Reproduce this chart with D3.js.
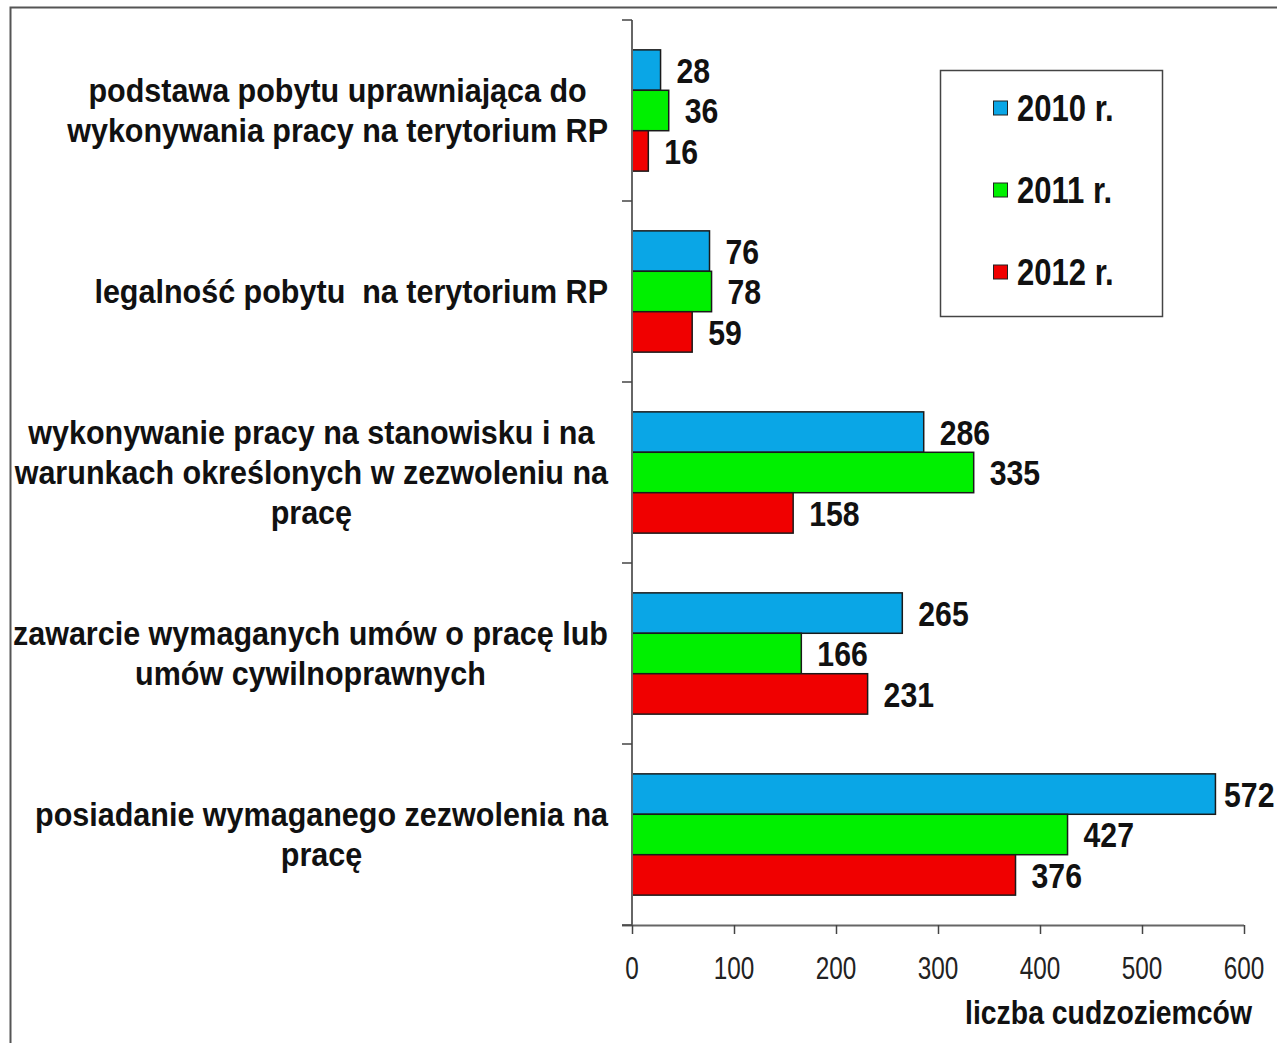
<!DOCTYPE html>
<html>
<head>
<meta charset="utf-8">
<script src="https://cdn.jsdelivr.net/npm/d3@7"></script>
<style>
  body { margin: 0; background: #fff; }
  text { font-family: "Liberation Sans", Arial, sans-serif; fill: #111; white-space: pre; }
</style>
</head>
<body>
<div class="chart"></div>
<script>
// categories from top to bottom
const categories = [
    ["podstawa pobytu uprawniająca do", "wykonywania pracy na terytorium RP"],
    ["legalność pobytu  na terytorium RP"],
    ["wykonywanie pracy na stanowisku i na", "warunkach określonych w zezwoleniu na", "pracę"],
    ["zawarcie wymaganych umów o pracę lub", "umów cywilnoprawnych"],
    ["posiadanie wymaganego zezwolenia na", "pracę"]
]
const years = ["2010 r.", "2011 r.", "2012 r."]
const values2010 = [28, 76, 286, 265, 572]
const values2011 = [36, 78, 335, 166, 427]
const values2012 = [16, 59, 158, 231, 376]
const xTicks = [0, 100, 200, 300, 400, 500, 600]
const colors = ["#0aa6e6", "#00f000", "#f00000"]

const series = [values2010, values2011, values2012]
const keys = categories.map((c, i) => "c" + i)

var width = 1277, height = 1043
var plot = {left: 632, right: 1244, top: 20, bottom: 925}

const svg = d3.select(".chart").append("svg")
    .attr("width", width)
    .attr("height", height)

// draws text squeezed horizontally by k; anchor: start | middle | end
function ntext(parent, x, y, str, size, weight, anchor, k) {
    return parent.append("text")
        .attr("transform", `translate(${x},${y}) scale(${k},1)`)
        .attr("text-anchor", anchor || "start")
        .attr("dy", "0.36em")
        .style("font-size", size + "px")
        .style("font-weight", weight)
        .text(str)
}

// outer frame
svg.append("rect")
    .attr("x", 10.5).attr("y", 7.5)
    .attr("width", width).attr("height", height)
    .attr("fill", "none")
    .attr("stroke", "#555")
    .attr("stroke-width", 2)

const xScale = d3.scaleLinear()
    .domain([0, 600])
    .range([plot.left, plot.right])

const yScale = d3.scaleBand()
    .domain(keys)
    .range([plot.top, plot.bottom])
    .paddingInner(0.33)
    .paddingOuter(0.165)

const ySub = d3.scaleBand()
    .domain(d3.range(years.length))
    .range([0, yScale.bandwidth()])

// bars
const groups = svg.selectAll(".grp")
    .data(keys)
    .join("g")
    .attr("class", "grp")
    .attr("transform", d => `translate(0, ${yScale(d)})`)

groups.selectAll("rect")
    .data((d, i) => series.map((s, j) => ({j: j, v: s[i]})))
    .join("rect")
    .attr("x", xScale(0))
    .attr("y", d => ySub(d.j))
    .attr("width", d => xScale(d.v) - xScale(0))
    .attr("height", ySub.bandwidth())
    .attr("fill", d => colors[d.j])
    .attr("stroke", "#1a1a1a")
    .attr("stroke-width", 1.5)

groups.each(function(key, i) {
    const g = d3.select(this)
    series.forEach((s, j) => {
        const x = Math.min(xScale(s[i]) + 16, 1224)
        ntext(g, x, ySub(j) + ySub.bandwidth() / 2, s[i], 36, "bold", "start", 0.84)
    })
})

// x axis
const xAxis = d3.axisBottom(xScale)
    .tickValues(xTicks)
    .tickSize(9)
    .tickFormat("")
    .tickSizeOuter(0)

const gx = svg.append("g")
    .attr("class", "axis x-axis")
    .attr("transform", `translate(0, ${plot.bottom})`)
    .call(xAxis)
gx.select(".domain").attr("stroke", "#666").attr("stroke-width", 2)
    .attr("d", `M${plot.left - 10},0.5H${plot.right}`)
gx.selectAll(".tick line").attr("stroke", "#444").attr("stroke-width", 1.5)
xTicks.forEach(t => ntext(svg, xScale(t), 967, t, 32, "normal", "middle", 0.76).style("fill", "#222"))

// y axis, ticks between categories
svg.append("line")
    .attr("x1", plot.left).attr("x2", plot.left)
    .attr("y1", plot.top).attr("y2", plot.bottom)
    .attr("stroke", "#666").attr("stroke-width", 2)

const step = yScale.step()
svg.selectAll(".ytick")
    .data(d3.range(keys.length + 1))
    .join("line")
    .attr("class", "ytick")
    .attr("x1", plot.left - 10).attr("x2", plot.left)
    .attr("y1", i => plot.top + i * step)
    .attr("y2", i => plot.top + i * step)
    .attr("stroke", "#444").attr("stroke-width", 1.5)

// category labels: block right-aligned, lines centered in block
const labelRight = 608
const lineH = 40
const catK = 0.925
categories.forEach((lines, i) => {
    const cy = yScale(keys[i]) + yScale.bandwidth() / 2
    const ly = k => cy + (k - (lines.length - 1) / 2) * lineH
    const texts = lines.map((ln, k) => ntext(svg, 0, ly(k), ln, 33, "bold", "middle", catK))
    const maxW = d3.max(texts, t => t.node().getComputedTextLength()) * catK
    texts.forEach((t, k) => t.attr("transform",
        `translate(${labelRight - maxW / 2},${ly(k)}) scale(${catK},1)`))
})

// legend
const legend = svg.append("g")
legend.append("rect")
    .attr("x", 940.5).attr("y", 70.5)
    .attr("width", 222).attr("height", 246)
    .attr("fill", "#fff")
    .attr("stroke", "#444")
    .attr("stroke-width", 1.5)

years.forEach((yr, j) => {
    const cy = 108 + j * 82
    legend.append("rect")
        .attr("x", 993.5).attr("y", cy - 7)
        .attr("width", 14).attr("height", 14)
        .attr("fill", colors[j])
        .attr("stroke", "#222")
        .attr("stroke-width", 1)
    ntext(legend, 1017, cy, yr, 37, "bold", "start", 0.84)
})

// axis title
ntext(svg, 1252, 1012, "liczba cudzoziemców", 33, "bold", "end", 0.86)
</script>
</body>
</html>
